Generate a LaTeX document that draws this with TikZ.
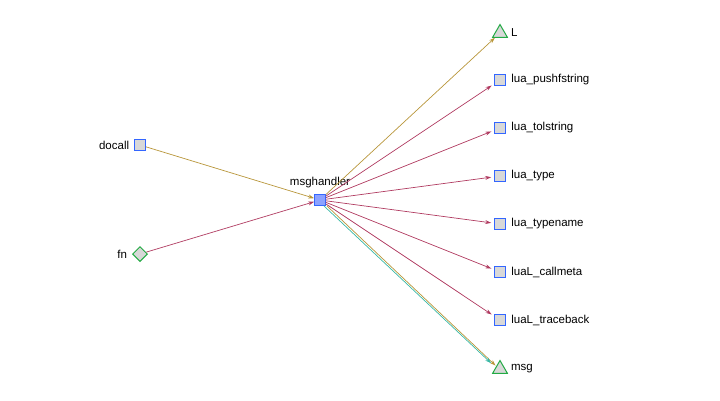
\documentclass[tikz,border=0pt]{standalone}
\usepackage{fontspec}
\setmainfont{Liberation Sans}
\usetikzlibrary{shapes.geometric,arrows.meta}
\definecolor{boxfill}{HTML}{D8D8D8}
\definecolor{boxline}{HTML}{3366FF}
\definecolor{hubfill}{HTML}{8CA2FF}
\definecolor{greenline}{HTML}{22AA44}
\definecolor{goldedge}{HTML}{B8963A}
\definecolor{redge}{HTML}{B03A60}
\definecolor{tealedge}{HTML}{38B8A6}
\tikzset{
  every node/.style={font=\fontsize{11.5}{13}\selectfont},
  fnbox/.style={rectangle, draw=boxline, fill=boxfill, line width=1.2pt,
    minimum size=10.5pt, inner sep=0pt},
  hubbox/.style={fnbox, fill=hubfill},
  varnode/.style={regular polygon, regular polygon sides=3, draw=greenline,
    fill=boxfill, line width=1pt, minimum size=17pt, inner sep=0pt},
  argnode/.style={diamond, draw=greenline, fill=boxfill, line width=1pt,
    minimum width=15pt, minimum height=15pt, inner sep=0pt},
  rlabel/.style={label={[label distance=2pt]right:#1}},
  llabel/.style={label={[label distance=1.5pt]left:#1}},
  link/.style={line width=0.7pt, -{Stealth[length=6pt,width=4pt]}},
}
\begin{document}
\begin{tikzpicture}[x=1pt, y=-1pt]
\useasboundingbox (0,0) rectangle (720,400);

% callers
\node[fnbox, llabel=docall] (docall) at (140,145) {};
\node[argnode, llabel=fn] (fn) at (140,254) {};

% the hub function
\node[hubbox, label={[label distance=3pt]above:msghandler}] (msghandler) at (320,200) {};

% callees and values on the right
\node[varnode, rlabel=L] (L) at (500,33) {};
\node[fnbox, rlabel=lua\_pushfstring] (pushf) at (500,80) {};
\node[fnbox, rlabel=lua\_tolstring] (tolstr) at (500,128) {};
\node[fnbox, rlabel=lua\_type] (ltype) at (500,176) {};
\node[fnbox, rlabel=lua\_typename] (ltypename) at (500,224) {};
\node[fnbox, rlabel=luaL\_callmeta] (callmeta) at (500,272) {};
\node[fnbox, rlabel=luaL\_traceback] (traceback) at (500,320) {};
\node[varnode, rlabel=msg] (msg) at (500,369) {};

% incoming edges
\draw[link, goldedge] (docall) -- (msghandler);
\draw[link, redge] (fn) -- (msghandler);

% outgoing edges
\draw[link, goldedge] (msghandler) -- (L);
\foreach \t in {pushf, tolstr, ltype, ltypename, callmeta, traceback}
  \draw[link, redge, shorten >=3pt] (msghandler) -- (\t);
\draw[link, goldedge] ([xshift=1pt]msghandler.south east) -- ([xshift=-1pt]msg.north west);
\draw[link, tealedge, shorten >=2pt] ([xshift=-2pt]msghandler.south east) -- ([xshift=-4pt, yshift=1pt]msg.north west);
\end{tikzpicture}
\end{document}
